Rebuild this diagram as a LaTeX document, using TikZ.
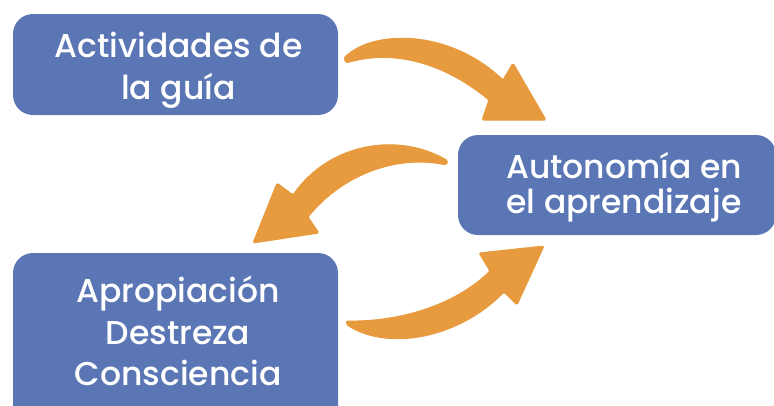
\documentclass[tikz,border=0pt]{standalone}
\usepackage{fontspec}
\setmainfont{Poppins Medium}
\definecolor{boxblue}{HTML}{5B76B5}
\definecolor{arroworange}{HTML}{E89B3E}
\tikzset{
  box/.style={fill=boxblue, rounded corners=20pt, inner sep=0pt},
  txt/.style={text=white, align=center, inner sep=0pt},
  bigarrow/.style={fill=arroworange, draw=arroworange, line width=1pt, line join=round, rounded corners=1.5pt}
}
\begin{document}
\begin{tikzpicture}[x=1pt,y=-1pt]
\useasboundingbox (0,0) rectangle (774,405);
% boxes
\node[box, minimum width=325pt, minimum height=101pt] (b1) at (175.5,64.5) {};
\node[box, minimum width=318pt, minimum height=100pt] (b2) at (617,185) {};
\node[box, minimum width=325pt, minimum height=182pt] (b3) at (175.5,344) {};
% texts
\node[txt, font=\fontsize{33}{42}\selectfont] (t1) at (178.5,70.5) {Actividades de\\la guía};
\node[txt, font=\fontsize{33}{35}\selectfont] (t2) at (624,187) {Autonomía en\\el aprendizaje};
\node[txt, font=\fontsize{33}{41.5}\selectfont] (t3) at (178,331) {Apropiación\\Destreza\\Consciencia};
% arrow 1
\filldraw[bigarrow] (344,58) .. controls (372,30) and (448,28) .. (503,80)
  -- (513,63) -- (546,120) -- (482,120) -- (489,100)
  .. controls (440,60) and (390,50) .. (346,63) -- cycle;
% arrow 2
\filldraw[bigarrow] (448,161) .. controls (400,132) and (330,142) .. (293,195)
  -- (277,183) -- (253,243) -- (319,233) -- (308,217)
  .. controls (345,172) and (400,155) .. (446,165) -- cycle;
% arrow 3
\filldraw[bigarrow] (346,321) .. controls (400,322) and (455,305) .. (490,271)
  -- (479,253) -- (544,246) -- (517,305) -- (504,292)
  .. controls (460,337) and (390,352) .. (347,325) -- cycle;
\end{tikzpicture}
\end{document}
